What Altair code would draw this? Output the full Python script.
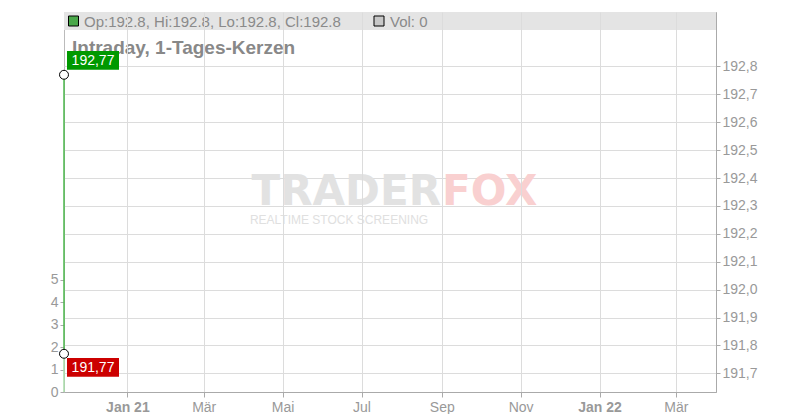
import altair as alt
import pandas as pd

# ---------------- data ----------------
candle_date = ["2020-11-13T00:00:00"]
price_high = [192.77]
price_low = [191.77]
volume = [0]
label_high = ["192,77"]
label_low = ["191,77"]

ohlc_text = "Op:192.8, Hi:192.8, Lo:192.8, Cl:192.8"
vol_text = "Vol: 0"
title_text = "Intraday, 1-Tages-Kerzen"

price_ticks = [191.7, 191.8, 191.9, 192.0, 192.1, 192.2, 192.3, 192.4, 192.5, 192.6, 192.7, 192.8]
volume_ticks = [0, 1, 2, 3, 4, 5]
month_ticks = [(2021, 1), (2021, 3), (2021, 5), (2021, 7), (2021, 9), (2021, 11), (2022, 1), (2022, 3)]
month_names = ["Jan", "Feb", "Mär", "Apr", "Mai", "Jun", "Jul", "Aug", "Sep", "Okt", "Nov", "Dez"]
x_domain = [(2020, 11, 13), (2022, 4, 1)]
price_domain = [191.633, 192.995]
volume_domain = [0, 16.96]

# ---------------- styles ----------------
FONT = "Liberation Sans"
GRID = "#dcdcdc"
AXIS = "#aaaaaa"
LABEL = "#999999"
W, H = 652, 380

candle = pd.DataFrame({"date": candle_date, "high": price_high, "low": price_low,
                       "vol": volume, "lab_hi": label_high, "lab_lo": label_low})

names_js = "[" + ",".join("'" + m + "'" for m in month_names) + "]"
x_axis = alt.Axis(
    values=[alt.DateTime(year=y, month=m, date=1) for y, m in month_ticks],
    labelExpr="month(datum.value)==0 ? 'Jan ' + timeFormat(datum.value, '%y') : "
              + names_js + "[month(datum.value)]",
    labelFontWeight={"condition": {"test": "month(datum.value)==0", "value": "bold"}, "value": "normal"},
    grid=True, gridColor=GRID, domainColor=AXIS, tickColor=AXIS, tickSize=5,
    labelPadding=3, labelFontSize=14, labelColor=LABEL, labelFont=FONT,
    labelFlush=False, labelOverlap=False, title=None, zindex=1,
)
x_scale = alt.Scale(domain=[alt.DateTime(year=y, month=m, date=d) for y, m, d in x_domain],
                    padding=0, nice=False)


def X():
    return alt.X("date:T", scale=x_scale, axis=x_axis)


price_axis = alt.Axis(
    orient="right", values=price_ticks,
    labelExpr="replace(format(datum.value, '.1f'), '.', ',')",
    grid=True, gridColor=GRID, domainColor=AXIS, tickColor=AXIS, tickSize=4,
    labelPadding=2, labelFontSize=14, labelColor=LABEL, labelFont=FONT,
    labelFlush=False, labelOverlap=False, title=None,
)
price_scale = alt.Scale(domain=price_domain, zero=False, nice=False)


def Yp(field):
    return alt.Y(field, scale=price_scale, axis=price_axis)


vol_axis = alt.Axis(
    orient="left", values=volume_ticks, grid=False, domain=False,
    tickColor=AXIS, tickSize=4, labelPadding=2, labelFontSize=14,
    labelColor=LABEL, labelFont=FONT, title=None,
)

# volume layer (left axis): a rule from 0 up to the volume value
vol_layer = alt.Chart(candle).mark_rule(color="#a8dca8", strokeWidth=2).encode(
    x=X(), y=alt.Y("vol:Q", scale=alt.Scale(domain=volume_domain, nice=False), axis=vol_axis),
    y2=alt.datum(0),
)

one = pd.DataFrame({"t": [""]})

# header band + legend
band = alt.Chart(one).mark_rect(color="#e4e4e4").encode(
    x=alt.value(0), x2=alt.value(W), y=alt.value(0), y2=alt.value(18))
sq_green = alt.Chart(one).mark_point(shape="square", size=100, filled=True, fill="#4aa84a",
                                     stroke="black", strokeWidth=1, opacity=1).encode(
    x=alt.value(9.5), y=alt.value(9))
ohlc = alt.Chart(pd.DataFrame({"t": [ohlc_text]})).mark_text(
    align="left", baseline="middle", fontSize=15, color="#8a8a8a", font=FONT).encode(
    x=alt.value(20), y=alt.value(9.5), text="t:N")
sq_gray = alt.Chart(one).mark_point(shape="square", size=100, filled=True, fill="#c8c8c8",
                                    stroke="black", strokeWidth=1, opacity=1).encode(
    x=alt.value(315), y=alt.value(9))
voltxt = alt.Chart(pd.DataFrame({"t": [vol_text]})).mark_text(
    align="left", baseline="middle", fontSize=15, color="#8a8a8a", font=FONT).encode(
    x=alt.value(326), y=alt.value(9.5), text="t:N")
title = alt.Chart(pd.DataFrame({"t": [title_text]})).mark_text(
    align="left", baseline="alphabetic", fontSize=19, fontWeight="bold", color="#888888", font=FONT).encode(
    x=alt.value(8), y=alt.value(42), text="t:N")

# watermark
wm1 = alt.Chart(pd.DataFrame({"t": ["TRADER"]})).mark_text(
    align="right", baseline="alphabetic", fontSize=42, fontWeight="bold", color="#e2e2e2",
    font="DejaVu Sans").encode(x=alt.value(377), y=alt.value(193), text="t:N")
wm2 = alt.Chart(pd.DataFrame({"t": ["FOX"]})).mark_text(
    align="left", baseline="alphabetic", fontSize=42, fontWeight="bold", color="#f9d0d0",
    font="DejaVu Sans").encode(x=alt.value(378), y=alt.value(193), text="t:N")
wm3 = alt.Chart(pd.DataFrame({"t": ["REALTIME STOCK SCREENING"]})).mark_text(
    align="center", baseline="middle", fontSize=12, color="#e0e0e0", font=FONT).encode(
    x=alt.value(275), y=alt.value(208), text="t:N")

# price marks
low_fill = alt.Chart(candle).mark_rule(color="#a8dca8", strokeWidth=1.5).encode(
    x=X(), y=Yp("low:Q"), y2=alt.value(H))
candle_rule = alt.Chart(candle).mark_rule(color="#4cb84c", strokeWidth=1.5).encode(
    x=X(), y=Yp("low:Q"), y2="high:Q")
hi_pt = alt.Chart(candle).mark_circle(size=80, fill="white", stroke="black", strokeWidth=1, opacity=1).encode(
    x=X(), y=Yp("high:Q"))
lo_pt = alt.Chart(candle).mark_circle(size=80, fill="white", stroke="black", strokeWidth=1, opacity=1).encode(
    x=X(), y=Yp("low:Q"))

BOX = "M-1,-0.36L1,-0.36L1,0.36L-1,0.36Z"
hi_box = alt.Chart(candle).mark_point(shape=BOX, size=2704, filled=True, opacity=1, strokeWidth=0,
                                      color="#009900", xOffset=29, yOffset=-14.5).encode(
    x=X(), y=Yp("high:Q"))
hi_txt = alt.Chart(candle).mark_text(color="white", fontSize=14, font=FONT, align="center",
                                     baseline="middle", xOffset=29, yOffset=-14).encode(
    x=X(), y=Yp("high:Q"), text="lab_hi:N")
lo_box = alt.Chart(candle).mark_point(shape=BOX, size=2704, filled=True, opacity=1, strokeWidth=0,
                                      color="#cc0000", xOffset=29, yOffset=13.6).encode(
    x=X(), y=Yp("low:Q"))
lo_txt = alt.Chart(candle).mark_text(color="white", fontSize=14, font=FONT, align="center",
                                     baseline="middle", xOffset=29, yOffset=14).encode(
    x=X(), y=Yp("low:Q"), text="lab_lo:N")

price_group = alt.layer(band, wm1, wm2, wm3, sq_green, ohlc, sq_gray, voltxt, title,
                        low_fill, candle_rule, hi_pt, lo_pt, hi_box, hi_txt, lo_box, lo_txt)

chart = alt.layer(vol_layer, price_group).resolve_scale(y="independent").properties(
    width=W, height=H, autosize="none",
    padding={"left": 56, "top": 4, "right": 70, "bottom": 22},
    background="white",
).configure_view(stroke="#bbbbbb", strokeWidth=1)

chart.save("out.html", embed_options={"renderer": "svg", "actions": False})
